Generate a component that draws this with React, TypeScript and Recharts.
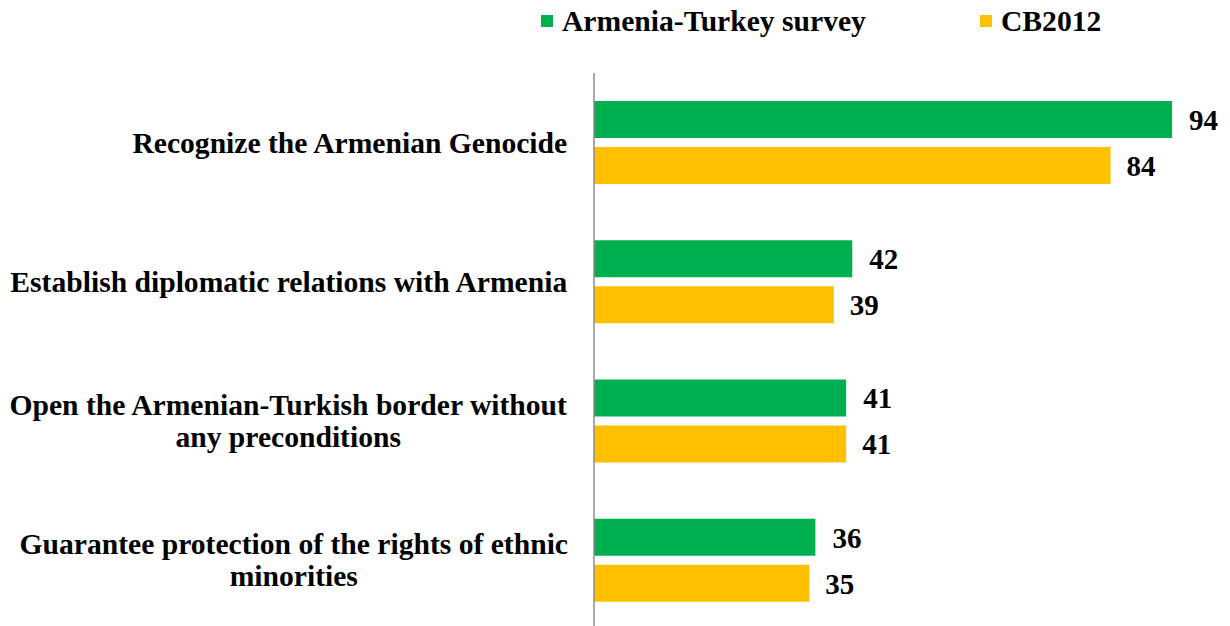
import { BarChart, Bar, XAxis, YAxis, LabelList } from "recharts";

const categories = [
  "Recognize the Armenian Genocide",
  "Establish diplomatic relations with Armenia",
  "Open the Armenian-Turkish border without|any preconditions",
  "Guarantee protection of the rights of ethnic|minorities",
];
const armeniaTurkey = [94, 42, 41, 36];
const cb2012 = [84, 39, 41, 35];

const seriesNames = ["Armenia-Turkey survey", "CB2012"];
const seriesColors = ["#00B050", "#FFC000"];
const legendLeft = [541, 980];

const data = categories.map((c, i) => ({
  name: c,
  at: armeniaTurkey[i],
  cb: cb2012[i],
}));

const FONT = "'Liberation Serif', 'Times New Roman', serif";
const FS = 29.6;
const VFS = 29;

let ctx: CanvasRenderingContext2D | null = null;
function measure(s: string) {
  if (!ctx) ctx = document.createElement("canvas").getContext("2d");
  if (!ctx) return s.length * 13;
  ctx.font = `bold ${FS}px 'Liberation Serif'`;
  return ctx.measureText(s).width;
}

function CategoryTick(props: any) {
  const { x, y, payload } = props;
  const lines: string[] = String(payload.value).split("|");
  const w = Math.max(...lines.map(measure));
  const cx = x - 18 - w / 2;
  const lh = 32;
  const y0 = y - ((lines.length - 1) * lh) / 2 + 10;
  return (
    <text
      textAnchor="middle"
      fontFamily={FONT}
      fontWeight="bold"
      fontSize={FS}
      fill="#000"
    >
      {lines.map((l, i) => (
        <tspan key={i} x={cx} y={y0 + i * lh}>
          {l}
        </tspan>
      ))}
    </text>
  );
}

export default function App() {
  return (
    <div style={{ position: "absolute", left: 0, top: 0, width: 1230, height: 626, overflow: "hidden", background: "#fff" }}>
      {seriesNames.map((n, i) => (
        <div
          key={n}
          style={{
            position: "absolute",
            top: 4,
            left: legendLeft[i],
            display: "flex",
            alignItems: "center",
            fontFamily: FONT,
            fontWeight: "bold",
            fontSize: FS,
            lineHeight: "34px",
            whiteSpace: "nowrap",
          }}
        >
          <span style={{ width: 12, height: 12, background: seriesColors[i], marginRight: 9, display: "inline-block" }} />
          {n}
        </div>
      ))}
      <BarChart
        width={1230}
        height={626}
        data={data}
        layout="vertical"
        margin={{ top: 73, right: 21, bottom: -4, left: 0 }}
        barSize={37}
        barGap={9}
      >
        <XAxis type="number" domain={[0, 100]} hide />
        <YAxis
          type="category"
          dataKey="name"
          width={594}
          axisLine={{ stroke: "#8c8c8c", strokeWidth: 1.5 }}
          tickLine={false}
          tick={<CategoryTick />}
          interval={0}
        />
        <Bar dataKey="at" fill={seriesColors[0]} isAnimationActive={false}>
          <LabelList
            dataKey="at"
            position="right"
            offset={17}
            fill="#000"
            fontFamily={FONT}
            fontWeight="bold"
            fontSize={VFS}
          />
        </Bar>
        <Bar dataKey="cb" fill={seriesColors[1]} isAnimationActive={false}>
          <LabelList
            dataKey="cb"
            position="right"
            offset={16}
            fill="#000"
            fontFamily={FONT}
            fontWeight="bold"
            fontSize={VFS}
          />
        </Bar>
      </BarChart>
    </div>
  );
}
